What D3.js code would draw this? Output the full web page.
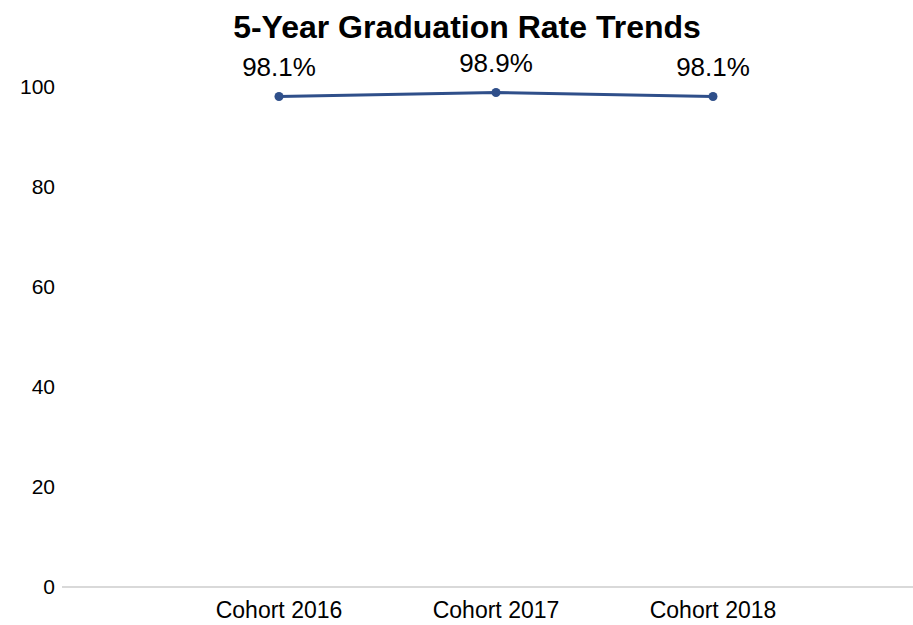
<!DOCTYPE html>
<html><head><meta charset="utf-8">
<script src="https://cdn.jsdelivr.net/npm/d3@7"></script>
<style>body{margin:0;background:#fff}svg{display:block;font-family:"Liberation Sans",Arial,sans-serif}</style>
</head><body><svg id="c" width="913" height="625"></svg>
<script>
const categories = ["Cohort 2016", "Cohort 2017", "Cohort 2018"];
const rates = [98.1, 98.9, 98.1];
const yTicks = [0, 20, 40, 60, 80, 100];
const title = "5-Year Graduation Rate Trends";

const svg = d3.select("#c");
const x = d3.scalePoint().domain(categories).range([62, 930]).padding(1);
const y = d3.scaleLinear().domain([0, 100]).range([587, 87]);

svg.append("text").attr("x", 467).attr("y", 38).attr("text-anchor", "middle")
  .attr("font-size", 32).attr("font-weight", "bold").attr("fill", "#000").text(title);

svg.append("line").attr("x1", 62).attr("x2", 913).attr("y1", y(0)).attr("y2", y(0))
  .attr("stroke", "#d9d9d9").attr("stroke-width", 2);

svg.selectAll(".yt").data(yTicks).enter().append("text")
  .attr("x", 55).attr("y", d => y(d)).attr("dy", "0.35em").attr("text-anchor", "end")
  .attr("font-size", 21).attr("fill", "#000").text(d => d);

svg.selectAll(".xt").data(categories).enter().append("text")
  .attr("x", d => x(d)).attr("y", 618).attr("text-anchor", "middle")
  .attr("font-size", 23).attr("fill", "#000").text(d => d);

const line = d3.line().x((d, i) => x(categories[i])).y(d => y(d));
svg.append("path").datum(rates).attr("d", line).attr("fill", "none")
  .attr("stroke", "#2f4f8a").attr("stroke-width", 3);

svg.selectAll(".pt").data(rates).enter().append("circle")
  .attr("cx", (d, i) => x(categories[i])).attr("cy", d => y(d)).attr("r", 4.5).attr("fill", "#2f4f8a");

svg.selectAll(".lb").data(rates).enter().append("text")
  .attr("x", (d, i) => x(categories[i])).attr("y", d => y(d) - 21).attr("text-anchor", "middle")
  .attr("font-size", 26).attr("fill", "#000").text(d => d.toFixed(1) + "%");
</script></body></html>
